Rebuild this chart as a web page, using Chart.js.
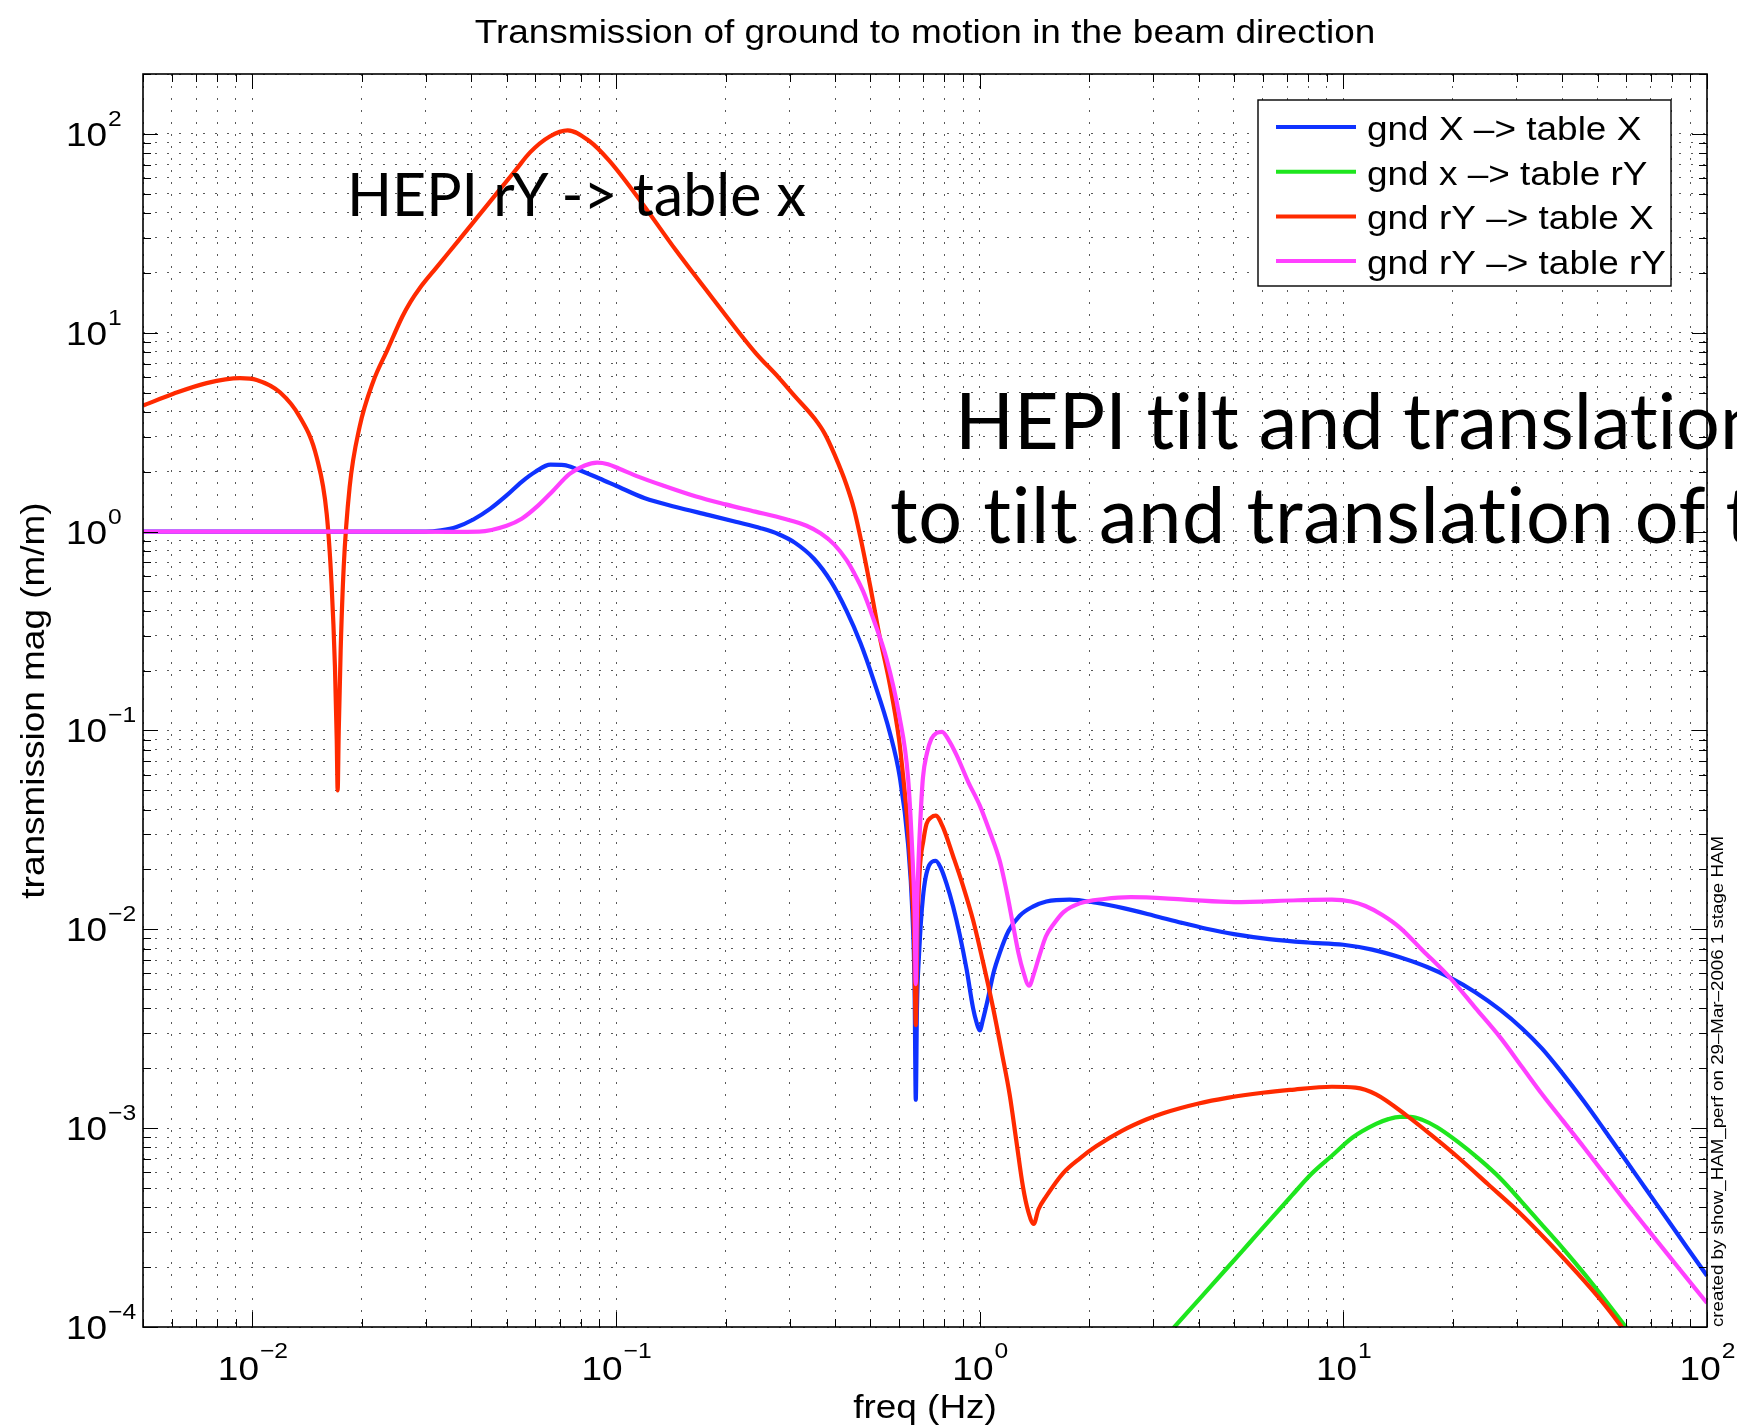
<!DOCTYPE html>
<html>
<head>
<meta charset="utf-8">
<script src="https://cdn.jsdelivr.net/npm/chart.js@4.4.1/dist/chart.umd.min.js"></script>
<style>
  html, body { margin: 0; padding: 0; background: #fff; overflow: hidden; }
  #wrap { position: relative; width: 1737px; height: 1427px; overflow: hidden; }
  #c { position: absolute; left: 0; top: 0; }
  .note {
    position: absolute; white-space: nowrap; color: #000;
    font-family: Lato, 'Open Sans', sans-serif; font-weight: 400;
    font-variant-ligatures: none; font-feature-settings: "liga" 0, "clig" 0;
  }
</style>
</head>
<body>
<div id="wrap">
  <canvas id="c" width="1737" height="1427"></canvas>
  <div class="note" id="noteShort"></div>
  <div class="note" id="noteLong1"></div>
  <div class="note" id="noteLong2"></div>
</div>
<script>
// ---- transfer function magnitudes (freq in Hz, magnitude in m/m) ----
const blueFreq = [0.005, 0.01, 0.02, 0.026, 0.03, 0.033, 0.0364, 0.0405, 0.045, 0.05, 0.055, 0.06, 0.066, 0.072, 0.078, 0.09, 0.1, 0.12, 0.146, 0.18, 0.213, 0.25, 0.28, 0.31, 0.35, 0.39, 0.43, 0.47, 0.51, 0.5655, 0.603, 0.635, 0.653, 0.662, 0.667, 0.672, 0.681, 0.698, 0.726, 0.757, 0.78, 0.81, 0.845, 0.881, 0.92, 0.959, 0.98, 1.0, 1.02, 1.054, 1.09, 1.135, 1.2, 1.288, 1.4, 1.525, 1.767, 2.09, 2.5, 3.0, 3.6, 4.2, 5.0, 6.25, 8, 10, 12, 14.3, 17, 19.6, 23, 27, 31, 35.2, 40, 45.9, 52, 60, 68, 78, 88, 100];
const blueMag = [1.0, 1.0, 1.0, 1.0, 1.0, 1.015, 1.055, 1.15, 1.3, 1.52, 1.78, 2.0, 2.17, 2.16, 2.06, 1.85, 1.7, 1.47, 1.33, 1.21, 1.12, 1.04, 0.97, 0.88, 0.73, 0.56, 0.40, 0.275, 0.18, 0.098, 0.058, 0.027, 0.012, 0.005, 0.00139, 0.004, 0.0075, 0.0145, 0.021, 0.0221, 0.0205, 0.017, 0.013, 0.0094, 0.0063, 0.0040, 0.0034, 0.0031, 0.0035, 0.0045, 0.006, 0.0076, 0.0098, 0.0117, 0.013, 0.0138, 0.0141, 0.01359, 0.01274, 0.01174, 0.01077, 0.01007, 0.00946, 0.00893, 0.00858, 0.00836, 0.0079, 0.00723, 0.00646, 0.00573, 0.00484, 0.00393, 0.00317, 0.00251, 0.00189, 0.00136, 0.00099, 0.000683, 0.000493, 0.000345, 0.000252, 0.000181];

const greenFreq = [3.0, 3.43, 4.0, 4.79, 5.5, 6.25, 7.2, 8.15, 9.3, 10.6, 12.3, 13.3, 14.3, 15.3, 16.5, 18.1, 20.7, 23.6, 27, 30.8, 35, 40.2, 46, 52.4, 60.7, 68];
const greenMag = [0.0000765, 0.0001, 0.000137, 0.000198, 0.000263, 0.000342, 0.000456, 0.000586, 0.000726, 0.000897, 0.00105, 0.00111, 0.00114, 0.00114, 0.0011, 0.00101, 0.00085, 0.0007, 0.00056, 0.00043, 0.00033, 0.000248, 0.000185, 0.000137, 0.0000965, 0.0000735];

const redFreq = [0.005, 0.00606, 0.00748, 0.00924, 0.01027, 0.0119, 0.01351, 0.01501, 0.016, 0.0165, 0.01686, 0.01705, 0.01715, 0.01727, 0.01748, 0.01782, 0.0185, 0.0197, 0.02145, 0.0235, 0.0258, 0.0272, 0.0288, 0.032, 0.037, 0.042, 0.0475, 0.053, 0.058, 0.0657, 0.0736, 0.0844, 0.0956, 0.114, 0.1464, 0.188, 0.2414, 0.28, 0.31, 0.3514, 0.375, 0.3983, 0.43, 0.451, 0.475, 0.5, 0.53, 0.566, 0.6, 0.615, 0.635, 0.648, 0.66, 0.667, 0.674, 0.684, 0.7, 0.714, 0.735, 0.757, 0.79, 0.845, 0.9, 0.959, 1.02, 1.088, 1.15, 1.209, 1.26, 1.315, 1.36, 1.408, 1.45, 1.525, 1.694, 1.89, 2.09, 2.46, 2.87, 3.21, 4.0, 4.79, 6, 7.13, 9.3, 10.8, 12.3, 15, 17.5, 20.7, 25, 30.8, 37, 45.9, 52, 58.3, 65];
const redMag = [4.3, 4.93, 5.58, 5.91, 5.79, 5.02, 3.76, 2.37, 1.23, 0.546, 0.208, 0.09, 0.05, 0.1, 0.253, 0.663, 1.67, 3.35, 5.64, 8.2, 12.0, 14.3, 16.7, 21.2, 29.3, 39.0, 51.5, 65.9, 80.7, 97, 104, 92, 73.5, 48.7, 25.8, 14.2, 7.95, 5.95, 4.8, 3.7, 3.1, 2.45, 1.72, 1.3, 0.85, 0.53, 0.3, 0.17, 0.09, 0.06, 0.032, 0.018, 0.009, 0.0033, 0.01, 0.0199, 0.028, 0.0339, 0.0365, 0.0373, 0.033, 0.0233, 0.0165, 0.0111, 0.0069, 0.00403, 0.0024, 0.00147, 0.00087, 0.000506, 0.00038, 0.00033, 0.00039, 0.000455, 0.000593, 0.000707, 0.00081, 0.000969, 0.001105, 0.001192, 0.001331, 0.00142, 0.001506, 0.001556, 0.001615, 0.0016, 0.00148, 0.00115, 0.00092, 0.000712, 0.000522, 0.000369, 0.000262, 0.000171, 0.000131, 0.0001, 0.000077];

const magentaFreq = [0.005, 0.02, 0.035, 0.042, 0.05, 0.055, 0.061, 0.067, 0.0745, 0.082, 0.0887, 0.095, 0.102, 0.114, 0.135, 0.166, 0.2, 0.2414, 0.29, 0.334, 0.365, 0.3983, 0.43, 0.451, 0.478, 0.511, 0.554, 0.6, 0.635, 0.652, 0.662, 0.667, 0.672, 0.678, 0.69, 0.698, 0.716, 0.736, 0.76, 0.788, 0.82, 0.863, 0.93, 1.0, 1.065, 1.135, 1.19, 1.235, 1.28, 1.315, 1.367, 1.41, 1.46, 1.52, 1.59, 1.7, 1.883, 2.2, 2.6, 3.67, 5, 7.5, 9.3, 10.5, 11.5, 12.8, 14.3, 16.5, 19.6, 23, 27, 31, 35.2, 40, 45.9, 52, 60, 68, 78, 88, 100];
const magentaMag = [1.0, 1.0, 0.997, 1.0, 1.07, 1.16, 1.35, 1.6, 1.95, 2.15, 2.22, 2.18, 2.07, 1.9, 1.7, 1.5, 1.37, 1.26, 1.16, 1.07, 0.98, 0.86, 0.72, 0.62, 0.5, 0.36, 0.23, 0.12, 0.058, 0.025, 0.012, 0.0053, 0.012, 0.021, 0.042, 0.058, 0.077, 0.0907, 0.097, 0.0984, 0.09, 0.0754, 0.055, 0.042, 0.031, 0.0221, 0.015, 0.0105, 0.0075, 0.0062, 0.0052, 0.006, 0.0074, 0.0092, 0.0105, 0.0122, 0.0135, 0.0142, 0.0145, 0.0141, 0.0137, 0.014, 0.0141, 0.0138, 0.0131, 0.0118, 0.0102, 0.00785, 0.00573, 0.00405, 0.00286, 0.00203, 0.00148, 0.0011, 0.0008, 0.000594, 0.000423, 0.000317, 0.000232, 0.000176, 0.000132];

const seriesLabels = ['gnd X \u2013> table X', 'gnd x \u2013> table rY', 'gnd rY \u2013> table X', 'gnd rY \u2013> table rY'];
const seriesColors = ['#0f32ff', '#1ee61e', '#ff2a00', '#ff40ff'];

// axis limits and decade tick labels (powers of ten)
const xLimits = [0.005, 100];
const yLimits = [1e-4, 200];
const xDecades = [-2, -1, 0, 1, 2];
const yDecades = [-4, -3, -2, -1, 0, 1, 2];

const titleText = 'Transmission of ground to motion in the beam direction';
const xTitle = 'freq (Hz)';
const yTitle = 'transmission mag (m/m)';
const stampText = 'created by show_HAM_perf on 29\u2013Mar\u20132006 1 stage HAM';
const noteShort = 'HEPI rY -> table x';
const noteLong1 = 'HEPI tilt and translation';
const noteLong2 = 'to tilt and translation of table';

// ---- helpers ----
const FONT_M = "'Liberation Sans', Arial, Helvetica, sans-serif";
const FONT_K = "Lato, 'Open Sans', sans-serif";
const SX = 1.12;

function pts(fs, ms) { return fs.map((f, i) => ({ x: f, y: ms[i] })); }

function logTicks(min, max) {
  const out = [];
  for (let e = -6; e <= 4; e++) {
    for (let m = 1; m <= 9; m++) {
      const v = parseFloat(m + 'e' + e);
      if (v >= min * 0.9999 && v <= max * 1.0001) out.push({ value: v });
    }
  }
  return out;
}
function isDecade(v) { const l = Math.log10(v); return Math.abs(l - Math.round(l)) < 1e-9; }
function expStr(e) { return e < 0 ? '\u2212' + Math.abs(e) : String(e); }

function drawText(ctx, str, x, y, o) {
  const sx = o.sx || 1;
  ctx.save();
  ctx.font = o.size + 'px ' + (o.family || FONT_M);
  ctx.fillStyle = o.color || '#000';
  ctx.textBaseline = 'alphabetic';
  ctx.textAlign = 'left';
  const w = ctx.measureText(str).width * sx;
  let dx = 0;
  if (o.align === 'center') dx = -w / 2; else if (o.align === 'right') dx = -w;
  ctx.translate(x, y);
  if (o.rotate) ctx.rotate(o.rotate);
  ctx.scale(sx, 1);
  ctx.fillText(str, dx / sx, 0);
  ctx.restore();
  return w;
}
function textWidth(ctx, str, size, family) {
  ctx.save();
  ctx.font = size + 'px ' + family;
  const w = ctx.measureText(str).width;
  ctx.restore();
  return w;
}

// axes box, inward tick marks, labels and legend
const decorations = {
  id: 'decorations',
  beforeDraw(chart) {
    const ctx = chart.ctx;
    ctx.save();
    ctx.fillStyle = '#fff';
    ctx.fillRect(0, 0, chart.width, chart.height);
    ctx.restore();
  },
  afterDraw(chart) {
    const { ctx, chartArea: a, scales } = chart;
    const xs = scales.x, ys = scales.y;
    ctx.save();

    // tick marks on all four sides
    ctx.strokeStyle = '#000';
    ctx.lineWidth = 1;
    ctx.beginPath();
    xs.ticks.forEach(t => {
      const p = Math.round(xs.getPixelForValue(t.value)) + 0.5;
      const len = isDecade(t.value) ? 15 : 8;
      ctx.moveTo(p, a.bottom); ctx.lineTo(p, a.bottom - len);
      ctx.moveTo(p, a.top); ctx.lineTo(p, a.top + len);
    });
    ys.ticks.forEach(t => {
      const p = Math.round(ys.getPixelForValue(t.value)) + 0.5;
      const len = isDecade(t.value) ? 15 : 8;
      ctx.moveTo(a.left, p); ctx.lineTo(a.left + len, p);
      ctx.moveTo(a.right, p); ctx.lineTo(a.right - len, p);
    });
    ctx.stroke();

    // box
    ctx.lineWidth = 1.6;
    ctx.strokeRect(a.left, a.top, a.right - a.left, a.bottom - a.top);

    // decade labels
    yDecades.forEach(e => {
      const p = ys.getPixelForValue(Math.pow(10, e));
      const r = a.left - 36;
      drawText(ctx, '10', r, p + 12, { size: 33, sx: SX, align: 'right' });
      drawText(ctx, expStr(e), r + 1, p - 8, { size: 22, sx: SX });
    });
    xDecades.forEach(e => {
      const p = xs.getPixelForValue(Math.pow(10, e));
      const w10 = textWidth(ctx, '10', 33, FONT_M) * SX;
      const we = textWidth(ctx, expStr(e), 22, FONT_M) * SX;
      const s = p - (w10 + we) / 2;
      drawText(ctx, '10', s, a.bottom + 53, { size: 33, sx: SX });
      drawText(ctx, expStr(e), s + w10 + 1, a.bottom + 31, { size: 22, sx: SX });
    });

    // titles
    const cx = (a.left + a.right) / 2, cy = (a.top + a.bottom) / 2;
    drawText(ctx, titleText, cx, 43, { size: 33, sx: SX, align: 'center' });
    drawText(ctx, xTitle, cx, a.bottom + 91, { size: 33, sx: SX, align: 'center' });
    drawText(ctx, yTitle, 44, cy, { size: 33, sx: SX, align: 'center', rotate: -Math.PI / 2 });

    // side stamp, reading upward from the bottom of the axes
    const stampLen = 491;
    const sw = textWidth(ctx, stampText, 16.3, FONT_M);
    drawText(ctx, stampText, a.right + 16, a.bottom, { size: 16.3, sx: stampLen / sw, rotate: -Math.PI / 2 });

    // legend
    const lx = 1258, ly = 100, lw = 413, lh = 186;
    ctx.fillStyle = '#fff';
    ctx.fillRect(lx, ly, lw, lh);
    ctx.strokeStyle = '#000';
    ctx.lineWidth = 1.4;
    ctx.strokeRect(lx, ly, lw, lh);
    seriesLabels.forEach((lab, i) => {
      const ry = ly + 27 + i * 44.7;
      ctx.strokeStyle = seriesColors[i];
      ctx.lineWidth = 4;
      ctx.beginPath();
      ctx.moveTo(lx + 18, ry); ctx.lineTo(lx + 98, ry);
      ctx.stroke();
      drawText(ctx, lab, lx + 109, ry + 13, { size: 33, sx: SX });
    });

    ctx.restore();
  }
};

const gridOpts = { color: 'rgba(60,60,60,0.85)', lineWidth: 1, drawTicks: false };
const borderOpts = { display: false, dash: [2, 10] };

const datasetOf = (fs, ms, i, order) => ({
  label: seriesLabels[i],
  data: pts(fs, ms),
  borderColor: seriesColors[i],
  backgroundColor: seriesColors[i],
  borderWidth: 4.2,
  pointRadius: 0,
  fill: false,
  cubicInterpolationMode: 'monotone',
  clip: 0,
  order: order
});

const chart = new Chart(document.getElementById('c'), {
  type: 'line',
  data: {
    datasets: [
      datasetOf(blueFreq, blueMag, 0, 4),
      datasetOf(greenFreq, greenMag, 1, 3),
      datasetOf(redFreq, redMag, 2, 2),
      datasetOf(magentaFreq, magentaMag, 3, 1)
    ]
  },
  options: {
    responsive: false,
    animation: false,
    devicePixelRatio: 1,
    layout: { padding: { left: 143, right: 30, top: 74, bottom: 100 } },
    plugins: { legend: { display: false }, tooltip: { enabled: false }, title: { display: false } },
    events: [],
    scales: {
      x: {
        type: 'logarithmic', min: xLimits[0], max: xLimits[1],
        afterBuildTicks: s => { s.ticks = logTicks(xLimits[0], xLimits[1]); },
        ticks: { display: false },
        grid: gridOpts, border: borderOpts
      },
      y: {
        type: 'logarithmic', min: yLimits[0], max: yLimits[1],
        afterBuildTicks: s => { s.ticks = logTicks(yLimits[0], yLimits[1]); },
        ticks: { display: false },
        grid: gridOpts, border: borderOpts
      }
    }
  },
  plugins: [decorations]
});

// slide notes laid over the plot: font size set from the rendered width of the
// first `chars` characters, then placed by baseline
function prefixWidth(el, chars) {
  const r = document.createRange();
  r.setStart(el.firstChild, 0);
  r.setEnd(el.firstChild, chars);
  return r.getBoundingClientRect().width;
}
function fitNote(id, str, chars, target) {
  const el = document.getElementById(id);
  el.textContent = str;
  el.style.fontSize = '100px';
  return 100 * target / prefixWidth(el, chars);
}
function placeNote(id, left, baseline, size) {
  const el = document.getElementById(id);
  const ctx = chart.ctx;
  ctx.save();
  ctx.font = size + 'px ' + FONT_K;
  const m = ctx.measureText(el.textContent);
  ctx.restore();
  const asc = m.fontBoundingBoxAscent, desc = m.fontBoundingBoxDescent;
  el.style.fontSize = size + 'px';
  el.style.lineHeight = (asc + desc) + 'px';
  el.style.left = left + 'px';
  el.style.top = (baseline - asc) + 'px';
}
// spread letters so the first `chars` characters span `target` pixels
function spreadNote(id, chars, target) {
  const el = document.getElementById(id);
  const w = prefixWidth(el, chars);
  el.style.letterSpacing = ((target - w) / chars) + 'px';
}
const sizeShort = fitNote('noteShort', noteShort, noteShort.length, 459);
const sizeLong = fitNote('noteLong1', noteLong1, noteLong1.length - 1, 765);
fitNote('noteLong2', noteLong2, noteLong2.length, 1000);
placeNote('noteShort', 347, 216, sizeShort);
placeNote('noteLong1', 955, 449, sizeLong);
placeNote('noteLong2', 890, 543, sizeLong);
spreadNote('noteLong2', 'to tilt and translation of'.length, 815);
</script>
</body>
</html>
